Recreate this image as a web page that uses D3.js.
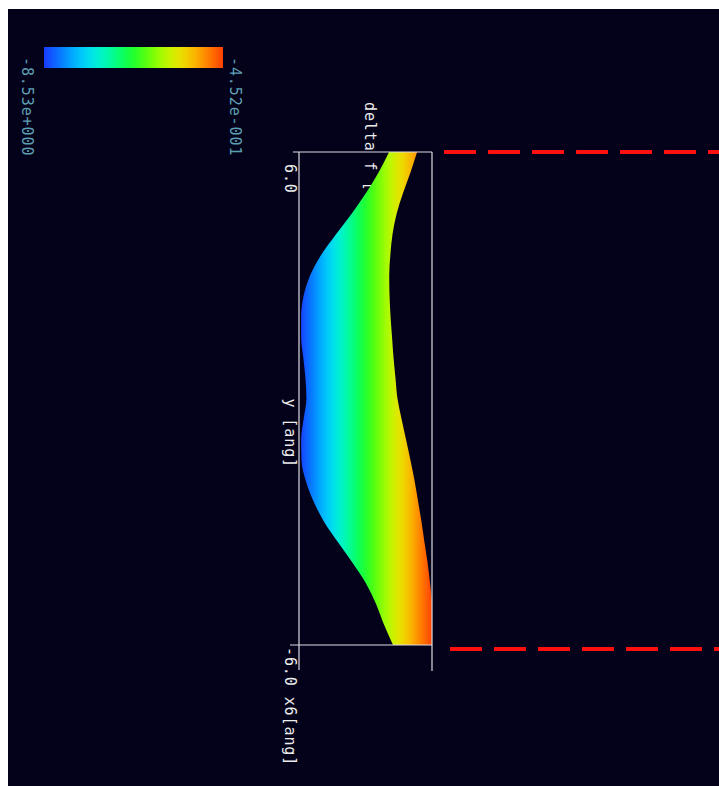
<!DOCTYPE html>
<html>
<head>
<meta charset="utf-8">
<script src="https://cdn.jsdelivr.net/npm/d3@7"></script>
<style>
  body { margin: 0; background: #fff; }
  text { font-family: "DejaVu Sans Mono", monospace; font-size: 15px; letter-spacing: 0.9px; }
</style>
</head>
<body>
<div id="chart"></div>
<script>
// position along the profile, y [ang]
const yAng = [6, 5.5, 5, 4.5, 4, 3.5, 3, 2.5, 2, 1.5, 1, 0.5, 0,
              -0.5, -1, -1.5, -2, -2.5, -3, -3.5, -4, -4.5, -5, -5.5, -6];
// lower and upper delta f along the profile
const lowF = [-3.06, -3.70, -4.46, -5.33, -6.28, -7.18, -7.85, -8.25, -8.40, -8.40, -8.27, -8.14, -8.08,
              -8.25, -8.40, -8.38, -8.12, -7.65, -7.01, -6.16, -5.28, -4.46, -3.85, -3.37, -2.82];
const highF = [-1.36, -1.76, -2.21, -2.60, -2.85, -2.98, -3.05, -3.03, -2.97, -2.88, -2.79, -2.67, -2.55,
               -2.30, -2.03, -1.76, -1.51, -1.30, -1.09, -0.91, -0.72, -0.57, -0.45, -0.45, -0.45];
const fRange = [-8.53, -0.452];
const fLabels = ["-8.53e+000", "-4.52e-001"];
const colorStops = ["#1a3aff", "#0090ff", "#00e8ff", "#00ffa0", "#10ff20", "#90ff00", "#f0f000", "#ffa000", "#ff4000"];
const yTicks = [{v: 6, label: "6.0"}, {v: -6, label: "-6.0 x6[ang]"}];
const refLines = [{y: 6, from: 0.28}, {y: -6.1, from: 0.64}];

const W = 719, H = 786;
const svg = d3.select("#chart").append("svg").attr("width", W).attr("height", H);

svg.append("rect").attr("x", 8).attr("y", 9).attr("width", W - 8).attr("height", H - 9).attr("fill", "#03021a");

// rotated plot: value runs left->right, y [ang] runs top->bottom
const x = d3.scaleLinear().domain(fRange).range([299, 432]);
const y = d3.scaleLinear().domain([6, -6]).range([152, 645]);

const color = d3.interpolateRgbBasis(colorStops);
const defs = svg.append("defs");
function grad(id, x1, x2) {
  const g = defs.append("linearGradient").attr("id", id)
    .attr("gradientUnits", "userSpaceOnUse")
    .attr("x1", x1).attr("x2", x2).attr("y1", 0).attr("y2", 0);
  d3.range(0, 1.0001, 0.05).forEach(t => {
    g.append("stop").attr("offset", t).attr("stop-color", color(t));
  });
}
grad("bandGrad", x.range()[0], x.range()[1]);
grad("barGrad", 44, 223);

// colour bar
svg.append("rect").attr("x", 44).attr("y", 47).attr("width", 179).attr("height", 21).attr("fill", "url(#barGrad)");
const vtext = (px, py, s, fill) => svg.append("text")
  .attr("transform", `translate(${px},${py}) rotate(90)`)
  .attr("fill", fill).text(s);
vtext(22, 57, fLabels[0], "#5f9fb2");
vtext(230, 57, fLabels[1], "#5f9fb2");

// title (partly hidden behind the band)
vtext(365, 102, "delta f [eV]", "#ececec");

// band
const area = d3.area()
  .y((d, i) => y(yAng[i]))
  .x0((d, i) => x(lowF[i]))
  .x1((d, i) => x(highF[i]))
  .curve(d3.curveMonotoneY);
svg.append("path").datum(yAng).attr("d", area).attr("fill", "url(#bandGrad)");

// frame
const fr = svg.append("g").attr("stroke", "#dcdce4").attr("stroke-width", 1.2).attr("fill", "none");
fr.append("line").attr("x1", 293).attr("x2", x.range()[1]).attr("y1", y(6)).attr("y2", y(6));
fr.append("line").attr("x1", 290).attr("x2", x.range()[1]).attr("y1", y(-6)).attr("y2", y(-6));
fr.append("line").attr("x1", x.range()[0]).attr("x2", x.range()[0]).attr("y1", y(6)).attr("y2", 670);
fr.append("line").attr("x1", x.range()[1]).attr("x2", x.range()[1]).attr("y1", y(6)).attr("y2", 671);

yTicks.forEach(t => vtext(285, y(t.v) + (t.v > 0 ? 12 : 2), t.label, "#ececec"));
vtext(285, y(0), "y [ang]", "#ececec");

// red dashed reference lines
refLines.forEach(r => {
  svg.append("line")
    .attr("x1", x(r.from)).attr("x2", W)
    .attr("y1", y(r.y)).attr("y2", y(r.y))
    .attr("stroke", "#ff1010").attr("stroke-width", 4)
    .attr("stroke-dasharray", "32 12");
});
</script>
</body>
</html>
